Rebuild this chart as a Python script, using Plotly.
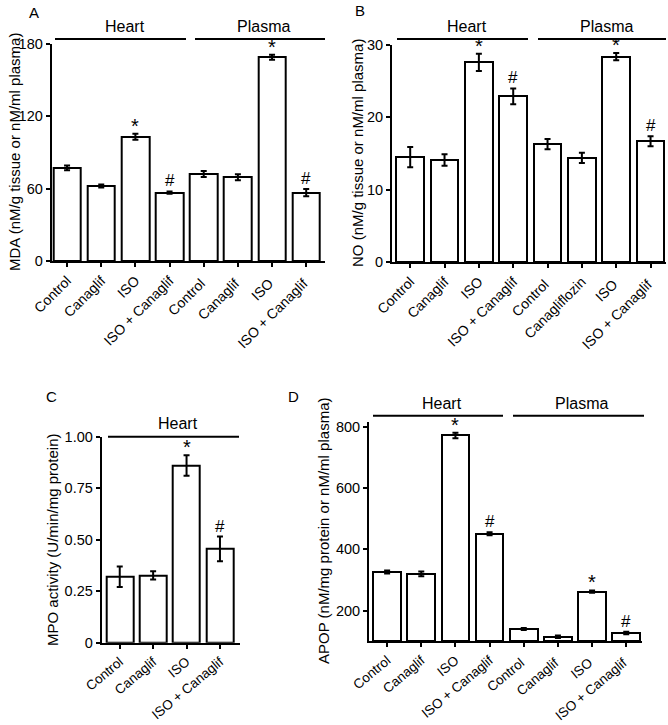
import plotly.graph_objects as go

W, H = 668, 725
FONT = "Liberation Sans, Arial, sans-serif"

# ---------------- data ----------------
cats_a = ["Control", "Canaglif", "ISO", "ISO + Canaglif",
          "Control ", "Canaglif ", "ISO ", "ISO + Canaglif "]
mda_vals = [77.2, 62.2, 103.0, 56.7, 72.2, 69.5, 169.0, 56.7]
mda_err = [2.0, 1.2, 2.5, 1.0, 2.5, 2.5, 2.0, 3.0]
mda_marks = ["", "", "*", "#", "", "", "*", "#"]

cats_b = ["Control", "Canaglif", "ISO", "ISO + Canaglif",
          "Control ", "Canagliflozin", "ISO ", "ISO + Canaglif "]
no_vals = [14.5, 14.1, 27.6, 22.9, 16.3, 14.4, 28.4, 16.7]
no_err = [1.4, 0.8, 1.2, 1.1, 0.7, 0.7, 0.5, 0.7]
no_marks = ["", "", "*", "#", "", "", "*", "#"]

cats_c = ["Control", "Canaglif", "ISO", "ISO + Canaglif"]
mpo_vals = [0.32, 0.327, 0.86, 0.455]
mpo_err = [0.05, 0.02, 0.05, 0.06]
mpo_marks = ["", "", "*", "#"]

cats_d = ["Control", "Canaglif", "ISO", "ISO + Canaglif",
          "Control ", "Canaglif ", "ISO ", "ISO + Canaglif "]
apop_vals = [326, 320, 771, 451, 140, 115, 262, 127]
apop_err = [5, 8, 9, 5, 3, 4, 4, 4]
apop_marks = ["", "", "*", "#", "", "", "*", "#"]

# ---------------- helpers ----------------
def px(x):
    return x / W

def py(y):
    return 1 - y / H

fig = go.Figure()

panels = [
    ("", cats_a, mda_vals, mda_err, mda_marks,
     [px(51.7), px(325)], [py(261), py(44)], [-0.45, 7.55], [0, 180],
     [0, 60, 120, 180], ["0", "60", "120", "180"], -45, 14),
    ("2", cats_b, no_vals, no_err, no_marks,
     [px(392), px(666)], [py(262), py(45)], [-0.53, 7.45], [0, 30],
     [0, 10, 20, 30], ["0", "10", "20", "30"], -45, 14),
    ("3", cats_c, mpo_vals, mpo_err, mpo_marks,
     [px(101.7), px(240)], [py(642.7), py(436.7)], [-0.54, 3.6], [0, 1.0],
     [0, 0.25, 0.5, 0.75, 1.0], ["0", "0.25", "0.50", "0.75", "1.00"], -40, 13.5),
    ("4", cats_d, apop_vals, apop_err, apop_marks,
     [px(369), px(642.3)], [py(641.3), py(422.1)], [-0.53, 7.47], [100, 815],
     [200, 400, 600, 800], ["200", "400", "600", "800"], -40, 13.5),
]

annotations = []
shapes = []

for suf, cats, vals, err, marks, xdom, ydom, xr, yr, tv, tt, ang, fs in panels:
    xa = "x" + suf
    ya = "y" + suf
    base = yr[0]
    fig.add_trace(go.Bar(
        x=list(range(len(cats))), y=[v - base for v in vals], base=base,
        width=0.81,
        marker=dict(color="white", line=dict(color="black", width=2)),
        error_y=dict(type="data", array=err, visible=True, color="black",
                     thickness=2, width=3),
        xaxis=xa, yaxis=ya, showlegend=False, hoverinfo="skip",
    ))
    fig.layout["xaxis" + suf] = dict(
        domain=xdom, range=xr, anchor=ya, showline=True, linewidth=2,
        linecolor="black", ticks="outside", ticklen=4, tickwidth=2,
        tickcolor="black", tickvals=list(range(len(cats))), ticktext=cats,
        tickangle=ang, tickfont=dict(family=FONT, size=fs, color="black"),
        showgrid=False, zeroline=False, fixedrange=True, automargin=False,
    )
    fig.layout["yaxis" + suf] = dict(
        domain=ydom, range=yr, anchor=xa, showline=True, linewidth=2,
        linecolor="black", ticks="outside", ticklen=4, tickwidth=2,
        tickcolor="black", tickvals=tv, ticktext=tt,
        tickfont=dict(family=FONT, size=14.5, color="black"),
        showgrid=False, zeroline=False, fixedrange=True, automargin=False,
    )
    for i, m in enumerate(marks):
        if m:
            annotations.append(dict(
                x=i, y=vals[i] + err[i], xref=xa, yref=ya, text=m,
                showarrow=False, yanchor="bottom", yshift=-5 if m == "*" else -1,
                font=dict(family=FONT, size=20 if m == "*" else 17, color="black"),
            ))

# group brackets (heart / plasma)
groups = [
    ("Heart", 125, 27, 55, 186, 39),
    ("Plasma", 263, 27, 195, 325, 39),
    ("Heart", 467, 27, 397, 528, 39),
    ("Plasma", 606, 27, 538, 666, 39),
    ("Heart", 178, 423, 108, 239, 436.7),
    ("Heart", 442, 403, 373, 503, 415.7),
    ("Plasma", 581, 403, 513, 644, 415.7),
]
for lab, tx, ty, x0, x1, ly in groups:
    annotations.append(dict(x=px(tx), y=py(ty), xref="paper", yref="paper",
                            text=lab, showarrow=False, xanchor="center",
                            yanchor="middle",
                            font=dict(family=FONT, size=16, color="black")))
    shapes.append(dict(type="line", xref="paper", yref="paper",
                       x0=px(x0), x1=px(x1), y0=py(ly), y1=py(ly),
                       line=dict(color="black", width=2)))

# axis titles
titles = [
    ("MDA (nM/g tissue or nM/ml plasma)", 14, 152),
    ("NO (nM/g tissue or nM/ml plasma)", 357, 153),
    ("MPO activity (U/min/mg protein)", 52, 540),
    ("APOP (nM/mg protein or nM/ml plasma)", 323, 531),
]
for t, tx, ty in titles:
    annotations.append(dict(x=px(tx), y=py(ty), xref="paper", yref="paper",
                            text=t, textangle=-90, showarrow=False,
                            xanchor="center", yanchor="middle",
                            font=dict(family=FONT, size=15, color="black")))

# panel letters
for lab, tx, ty in [("A", 34, 12), ("B", 360, 10), ("C", 51, 396), ("D", 293, 396)]:
    annotations.append(dict(x=px(tx), y=py(ty), xref="paper", yref="paper",
                            text=lab, showarrow=False, xanchor="center",
                            yanchor="middle",
                            font=dict(family=FONT, size=15, color="black")))

fig.update_layout(
    template="none",
    width=W, height=H, margin=dict(l=0, r=0, t=0, b=0, autoexpand=False),
    paper_bgcolor="white", plot_bgcolor="white",
    annotations=annotations, shapes=shapes, bargap=0,
)

fig.write_html(
    "out.html",
    config={"displayModeBar": False},
    post_script="document.body.style.margin='0';document.body.style.overflow='hidden';",
)
